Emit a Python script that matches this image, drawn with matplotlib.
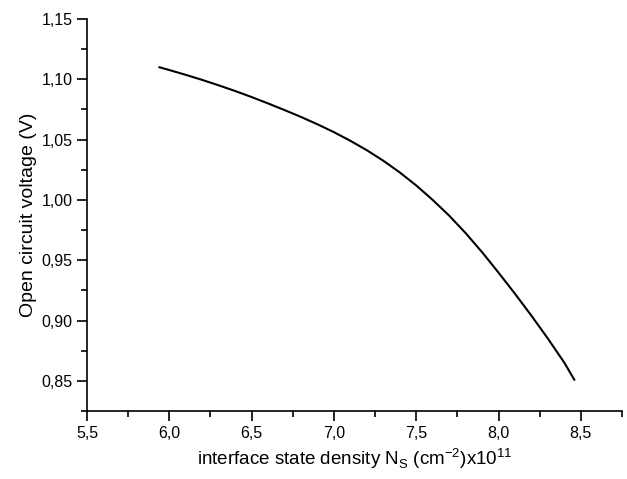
import matplotlib
matplotlib.use('Agg')
import matplotlib.pyplot as plt
from matplotlib.ticker import MultipleLocator, FuncFormatter

plt.rcParams['font.family'] = 'Liberation Sans'
plt.rcParams['mathtext.fontset'] = 'custom'
plt.rcParams['mathtext.rm'] = 'Liberation Sans'

# values
ns = [5.94, 6.0, 6.1, 6.2, 6.3, 6.4, 6.5, 6.6, 6.7, 6.8, 6.9, 7.0, 7.1, 7.2,
      7.3, 7.4, 7.5, 7.6, 7.7, 7.8, 7.9, 8.0, 8.1, 8.2, 8.3, 8.4, 8.46]
voc = [1.1100, 1.1077, 1.1037, 1.0995, 1.0950, 1.0903, 1.0853, 1.0800, 1.0745,
       1.0688, 1.0627, 1.0562, 1.0490, 1.0412, 1.0325, 1.0228, 1.0120, 1.0000,
       0.9870, 0.9725, 0.9567, 0.9397, 0.9222, 0.9040, 0.8850, 0.8650, 0.8510]

fig = plt.figure(figsize=(6.27, 4.79), dpi=100)
ax = fig.add_axes([0.1388, 0.142, 0.8532, 0.8183])

ax.plot(ns, voc, color='black', linewidth=1.5)

ax.set_xlim(5.5, 8.75)
ax.set_ylim(0.825, 1.15)

ax.spines['top'].set_visible(False)
ax.spines['right'].set_visible(False)
for s in ['left', 'bottom']:
    ax.spines[s].set_linewidth(1.2)

ax.xaxis.set_major_locator(MultipleLocator(0.5))
ax.xaxis.set_minor_locator(MultipleLocator(0.25))
ax.yaxis.set_major_locator(MultipleLocator(0.05))
ax.yaxis.set_minor_locator(MultipleLocator(0.025))

ax.xaxis.set_major_formatter(FuncFormatter(lambda v, p: ('%.1f' % v).replace('.', ',')))
ax.yaxis.set_major_formatter(FuncFormatter(lambda v, p: ('%.2f' % v).replace('.', ',')))

ax.tick_params(which='major', direction='out', length=7, width=1.2, labelsize=11.5)
ax.tick_params(which='minor', direction='out', length=4, width=1.2)

ax.set_xlabel(r'interface state density N$_\mathregular{S}$ (cm$^\mathregular{-2}$)x10$^\mathregular{11}$',
              fontsize=13.5, labelpad=4)
ax.set_ylabel('Open circuit voltage (V)', fontsize=14, labelpad=3)

plt.savefig('out.png', dpi=100)
